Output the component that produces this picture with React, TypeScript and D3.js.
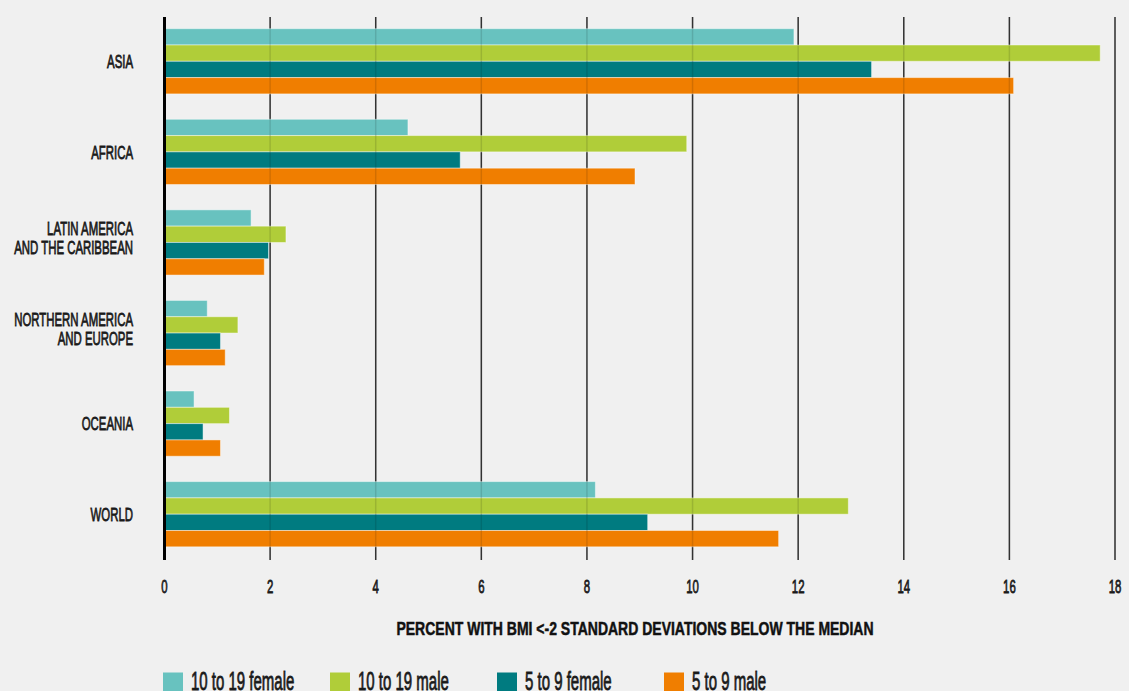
import React, { useEffect } from "react";
import * as d3 from "d3";

const categories = ["ASIA", "AFRICA", "LATIN AMERICA AND THE CARIBBEAN", "NORTHERN AMERICA AND EUROPE", "OCEANIA", "WORLD"];
const categoryLines = [["ASIA"], ["AFRICA"], ["LATIN AMERICA", "AND THE CARIBBEAN"], ["NORTHERN AMERICA", "AND EUROPE"], ["OCEANIA"], ["WORLD"]];
const seriesNames = ["10 to 19 female", "10 to 19 male", "5 to 9 female", "5 to 9 male"];
const female10to19 = [11.92, 4.61, 1.64, 0.81, 0.56, 8.16];
const male10to19 = [17.72, 9.89, 2.3, 1.39, 1.23, 12.95];
const female5to9 = [13.39, 5.6, 1.97, 1.06, 0.73, 9.15];
const male5to9 = [16.08, 8.91, 1.89, 1.15, 1.06, 11.63];
const seriesValues = [female10to19, male10to19, female5to9, male5to9];
const seriesColors = ["#68c2bf", "#b0cd39", "#007b80", "#f07e00"];
const axisTitle = "PERCENT WITH BMI <-2 STANDARD DEVIATIONS BELOW THE MEDIAN";

const W = 1129;
const H = 691;
const FONT = "'Liberation Sans', Arial, sans-serif";
const SX = 0.6;
const INK = "#1a1a1a";

export default function App() {
  useEffect(() => {
    document.body.style.margin = "0";
    document.body.style.background = "#f0f0f0";
  }, []);

  const x = d3.scaleLinear().domain([0, 18]).range([164.5, 1115]);
  const y0 = d3.scaleBand<string>().domain(categories).range([16, 559.5]).paddingInner(0.28).paddingOuter(0.14);
  const y1 = d3.scaleBand<string>().domain(seriesNames).range([0, y0.bandwidth()]);
  const ticks = x.ticks(9);
  const gridTop = 17;
  const gridBottom = 560;

  return (
    <svg width={W} height={H} style={{ position: "absolute", left: 0, top: 0, background: "#f0f0f0" }}>
      <rect x={0} y={0} width={W} height={H} fill="#f0f0f0" />
      {ticks.filter((t) => t > 0).map((t) => (
        <line key={"g" + t} x1={x(t)} x2={x(t)} y1={gridTop} y2={gridBottom} stroke="#3a3a3a" strokeWidth={1.5} />
      ))}
      {categories.map((c, ci) => (
        <g key={c} transform={`translate(0,${y0(c)})`}>
          {seriesNames.map((s, si) => (
            <rect
              key={s}
              x={x(0)}
              y={y1(s)}
              width={x(seriesValues[si][ci]) - x(0)}
              height={y1.bandwidth()}
              fill={seriesColors[si]}
              stroke="#ffffff"
              strokeOpacity={0.45}
              strokeWidth={1}
            />
          ))}
        </g>
      ))}
      {ticks.filter((t) => t > 0).map((t) => (
        <line key={"go" + t} x1={x(t)} x2={x(t)} y1={gridTop} y2={gridBottom} stroke="#000" strokeOpacity={0.12} strokeWidth={1.5} />
      ))}
      <line x1={x(0)} x2={x(0)} y1={gridTop} y2={gridBottom} stroke="#000" strokeWidth={3} />
      {categories.map((c, ci) => {
        const lines = categoryLines[ci];
        const cy = (y0(c) as number) + y0.bandwidth() / 2;
        return lines.map((ln, li) => {
          const yy = lines.length === 1 ? cy : cy - 14 + li * 19;
          return (
            <text
              key={c + li}
              transform={`translate(133,${yy}) scale(${SX},1)`}
              textAnchor="end"
              dominantBaseline="central"
              fontFamily={FONT}
              fontSize={19}
              fill={INK}
              stroke={INK}
              strokeWidth={0.8}
            >
              {ln}
            </text>
          );
        });
      })}
      {ticks.map((t) => (
        <text
          key={"t" + t}
          transform={`translate(${x(t)},586) scale(${SX},1)`}
          textAnchor="middle"
          dominantBaseline="central"
          fontFamily={FONT}
          fontSize={19}
          fill={INK}
          stroke={INK}
          strokeWidth={0.8}
        >
          {t}
        </text>
      ))}
      <text
        transform={`translate(635,628.5) scale(0.757,1)`}
        textAnchor="middle"
        dominantBaseline="central"
        fontFamily={FONT}
        fontWeight="bold"
        fontSize={18.5}
        fill="#111"
        stroke="#111"
        strokeWidth={0.5}
      >
        {axisTitle}
      </text>
      {seriesNames.map((s, i) => {
        const lx = 163 + i * 167;
        return (
          <g key={"l" + s}>
            <rect x={lx} y={672.5} width={20} height={20} fill={seriesColors[i]} />
            <text
              transform={`translate(${lx + 28},690) scale(${SX},1)`}
              fontFamily={FONT}
              fontSize={25}
              fill={INK}
              stroke={INK}
              strokeWidth={0.8}
            >
              {s}
            </text>
          </g>
        );
      })}
    </svg>
  );
}
